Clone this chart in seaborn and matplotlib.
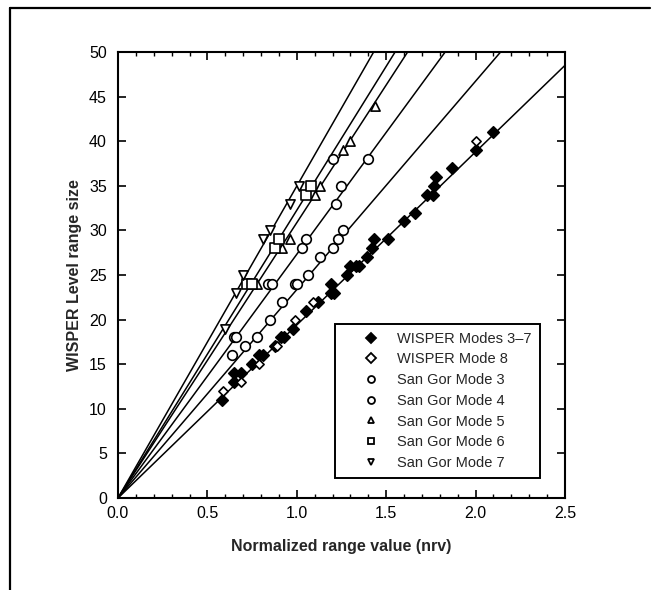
import numpy as np
import pandas as pd
import matplotlib
matplotlib.use("Agg")
import matplotlib.pyplot as plt
from matplotlib.lines import Line2D
from matplotlib.ticker import MultipleLocator
import seaborn as sns

# Data (nrv, level range size)
wisper37_x = [0.58, 0.65, 0.65, 0.69, 0.75, 0.79, 0.81, 0.88, 0.91, 0.93, 0.98, 1.05,
              1.12, 1.19, 1.21, 1.19, 1.28, 1.30, 1.33, 1.35, 1.39, 1.42, 1.43, 1.51,
              1.60, 1.66, 1.73, 1.76, 1.77, 1.78, 1.87, 2.00, 2.10]
wisper37_y = [11, 13, 14, 14, 15, 16, 16, 17, 18, 18, 19, 21,
              22, 23, 23, 24, 25, 26, 26, 26, 27, 28, 29, 29,
              31, 32, 34, 34, 35, 36, 37, 39, 41]

wisper8_x = [0.59, 0.69, 0.79, 0.89, 0.99, 1.09, 2.00]
wisper8_y = [12, 13, 15, 17, 20, 22, 40]

sg3_x = [0.64, 0.71, 0.78, 0.85, 0.92, 0.99, 1.00, 1.06, 1.13, 1.20, 1.23, 1.26]
sg3_y = [16, 17, 18, 20, 22, 24, 24, 25, 27, 28, 29, 30]

sg4_x = [0.65, 0.66, 0.84, 0.86, 1.03, 1.05, 1.22, 1.25, 1.20, 1.40]
sg4_y = [18, 18, 24, 24, 28, 29, 33, 35, 38, 38]

sg5_x = [0.78, 0.92, 0.96, 1.10, 1.13, 1.26, 1.30, 1.44]
sg5_y = [24, 28, 29, 34, 35, 39, 40, 44]

sg6_x = [0.72, 0.75, 0.88, 0.90, 1.05, 1.08]
sg6_y = [24, 24, 28, 29, 34, 35]

sg7_x = [0.60, 0.66, 0.70, 0.81, 0.85, 0.96, 1.01]
sg7_y = [19, 23, 25, 29, 30, 33, 35]

# fitted lines through the origin, end points where they leave the plot
fit_names = ["SG7", "SG6", "SG5", "SG4", "SG3", "WISPER"]
fit_x_end = [1.43, 1.55, 1.62, 1.83, 2.14, 2.50]
fit_y_end = [50, 50, 50, 50, 50, 48.5]

sns.set_style("ticks")
plt.rcParams['font.family'] = ['Liberation Sans', 'DejaVu Sans']

fig = plt.figure(figsize=(6.53, 5.9), dpi=100)
ax = fig.add_axes([0.1807, 0.1559, 0.6845, 0.756])

# fit lines
fits = pd.DataFrame({
    'fit': fit_names * 2,
    'x': [0.0] * len(fit_names) + fit_x_end,
    'y': [0.0] * len(fit_names) + fit_y_end,
})
sns.lineplot(data=fits, x='x', y='y', units='fit', estimator=None,
             color='black', linewidth=1.1, legend=False, ax=ax, sort=True)

# series: name, x, y, marker, face, size
series = [
    ("WISPER Modes 3\u20137", wisper37_x, wisper37_y, 'D', 'black', 34),
    ("WISPER Mode 8", wisper8_x, wisper8_y, 'D', 'white', 22),
    ("San Gor Mode 3", sg3_x, sg3_y, 'o', 'white', 48),
    ("San Gor Mode 4", sg4_x, sg4_y, 'o', 'white', 48),
    ("San Gor Mode 5", sg5_x, sg5_y, '^', 'white', 44),
    ("San Gor Mode 6", sg6_x, sg6_y, 's', 'white', 44),
    ("San Gor Mode 7", sg7_x, sg7_y, 'v', 'white', 44),
]

handles = []
for name, xs, ys, mk, face, s in series:
    sns.scatterplot(x=xs, y=ys, marker=mk, s=s, color=face, edgecolor='black',
                    linewidth=1.2, ax=ax, zorder=3)
    handles.append(Line2D([], [], linestyle='none', marker=mk, markersize=5,
                          markerfacecolor=face, markeredgecolor='black',
                          markeredgewidth=1.3, label=name))

ax.set_xlim(0, 2.5)
ax.set_ylim(0, 50)
ax.xaxis.set_major_locator(MultipleLocator(0.5))
ax.xaxis.set_minor_locator(MultipleLocator(0.1))
ax.yaxis.set_major_locator(MultipleLocator(5))
ax.tick_params(which='both', direction='in', top=True, right=True,
               labelsize=11.5, color='black', labelcolor='black')
ax.tick_params(which='major', length=6, width=1.2)
ax.tick_params(axis='x', which='major', pad=6)
ax.tick_params(axis='y', which='major', pad=8)
ax.tick_params(which='minor', length=3, width=1.0)
ax.tick_params(axis='y', which='minor', left=False, right=False)
for sp in ax.spines.values():
    sp.set_linewidth(1.5)
    sp.set_color('black')

ax.set_xlabel("Normalized range value (nrv)", fontsize=11.5, fontweight='bold', labelpad=13)
ax.set_ylabel("WISPER Level range size", fontsize=11.5, fontweight='bold', labelpad=5)

leg = ax.legend(handles=handles, loc='lower right', bbox_to_anchor=(0.944, 0.045),
                borderaxespad=0, fontsize=10.5, frameon=True, fancybox=False,
                edgecolor='black', framealpha=1, labelspacing=0.46,
                handlelength=3.8, handletextpad=-0.1, borderpad=0.55)
leg.get_frame().set_linewidth(1.4)

# outer frame of the figure (top and left edges)
fig.add_artist(Line2D([10 / 653, 650 / 653], [1 - 8 / 590, 1 - 8 / 590],
                      transform=fig.transFigure, color='black', linewidth=1.6))
fig.add_artist(Line2D([10 / 653, 10 / 653], [1 - 8 / 590, 0],
                      transform=fig.transFigure, color='black', linewidth=1.6))

fig.savefig("out.png", dpi=100)
